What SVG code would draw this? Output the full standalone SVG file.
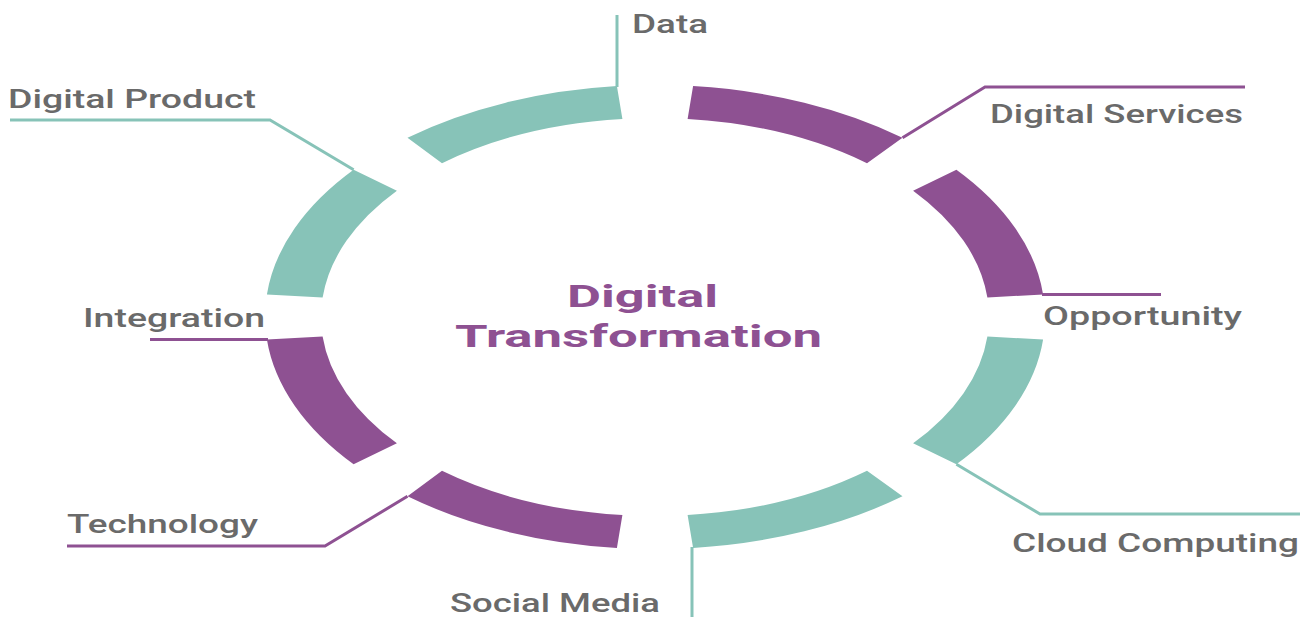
<svg xmlns="http://www.w3.org/2000/svg" width="1311" height="619" viewBox="0 0 1311 619">
  <style>
    .teal { fill: #87c3b8; }
    .purple { fill: #8e5192; }
    .lead { fill: none; stroke-width: 3; stroke-linejoin: miter; }
    .lt { stroke: #87c3b8; }
    .lp { stroke: #8e5192; }
    .label { font-family: Roboto, "Liberation Sans", sans-serif; font-weight: 500; font-size: 26px; fill: #6a6a6a; }
    .title { font-family: Roboto, "Liberation Sans", sans-serif; font-weight: 700; font-size: 32px; fill: #8e5192; }
  </style>
  <rect width="1311" height="619" fill="#ffffff"/>

  <!-- ring segments: elliptical ring centred at (655,317), outer 390x232, inner 334x199 -->
  <g id="seg-digital-services"><path class="purple" d="M693.1,86.1 A390,232 0 0,1 902.5,137.7 L867.0,163.2 A334,199 0 0,0 687.6,119.0 Z"/></g>
  <g id="seg-opportunity"><path class="purple" d="M956.4,169.7 A390,232 0 0,1 1043.1,294.4 L987.4,297.6 A334,199 0 0,0 913.1,190.7 Z"/></g>
  <g id="seg-cloud-computing"><path class="teal" d="M1043.1,339.6 A390,232 0 0,1 956.4,464.3 L913.1,443.3 A334,199 0 0,0 987.4,336.4 Z"/></g>
  <g id="seg-social-media"><path class="teal" d="M902.5,496.3 A390,232 0 0,1 693.1,547.9 L687.6,515.0 A334,199 0 0,0 867.0,470.8 Z"/></g>
  <g id="seg-technology"><path class="purple" d="M616.9,547.9 A390,232 0 0,1 407.5,496.3 L442.0,470.8 A334,199 0 0,0 622.4,515.0 Z"/></g>
  <g id="seg-integration"><path class="purple" d="M353.6,464.3 A390,232 0 0,1 266.9,339.6 L322.6,336.4 A334,199 0 0,0 396.9,443.3 Z"/></g>
  <g id="seg-digital-product"><path class="teal" d="M266.9,294.4 A390,232 0 0,1 353.6,169.7 L396.9,190.7 A334,199 0 0,0 322.6,297.6 Z"/></g>
  <g id="seg-data"><path class="teal" d="M407.5,137.7 A390,232 0 0,1 616.9,86.1 L622.4,119.0 A334,199 0 0,0 442.0,163.2 Z"/></g>

  <!-- leader lines -->
  <g id="connectors">
    <polyline class="lead lt" points="617,87 617,15"/>
    <polyline class="lead lp" points="902.5,137.7 985,87 1245,87"/>
    <polyline class="lead lp" points="1042,294.4 1161,294.4"/>
    <polyline class="lead lt" points="956.4,464.3 1040,514 1300,514"/>
    <polyline class="lead lt" points="692,547 692,617"/>
    <polyline class="lead lp" points="407.5,496.3 325,546 67,546"/>
    <polyline class="lead lp" points="268,339.6 150,339.6"/>
    <polyline class="lead lt" points="353.6,169.7 270,120 10,120"/>
  </g>

  <!-- labels -->
  <g id="label-data"><text class="label" x="632" y="33" textLength="76" lengthAdjust="spacingAndGlyphs">Data</text></g>
  <g id="label-digital-services"><text class="label" x="990" y="123" textLength="253" lengthAdjust="spacingAndGlyphs">Digital Services</text></g>
  <g id="label-opportunity"><text class="label" x="1043" y="325" textLength="199" lengthAdjust="spacingAndGlyphs">Opportunity</text></g>
  <g id="label-cloud-computing"><text class="label" x="1012" y="552" textLength="287" lengthAdjust="spacingAndGlyphs">Cloud Computing</text></g>
  <g id="label-social-media"><text class="label" x="450" y="612" textLength="210" lengthAdjust="spacingAndGlyphs">Social Media</text></g>
  <g id="label-technology"><text class="label" x="67" y="533" textLength="191" lengthAdjust="spacingAndGlyphs">Technology</text></g>
  <g id="label-integration"><text class="label" x="83" y="327" textLength="182" lengthAdjust="spacingAndGlyphs">Integration</text></g>
  <g id="label-digital-product"><text class="label" x="8" y="108" textLength="248" lengthAdjust="spacingAndGlyphs">Digital Product</text></g>

  <!-- centre title -->
  <g id="title">
    <text class="title" x="567" y="307" textLength="151" lengthAdjust="spacingAndGlyphs">Digital</text>
    <text class="title" x="455" y="347" textLength="367" lengthAdjust="spacingAndGlyphs">Transformation</text>
  </g>
</svg>
